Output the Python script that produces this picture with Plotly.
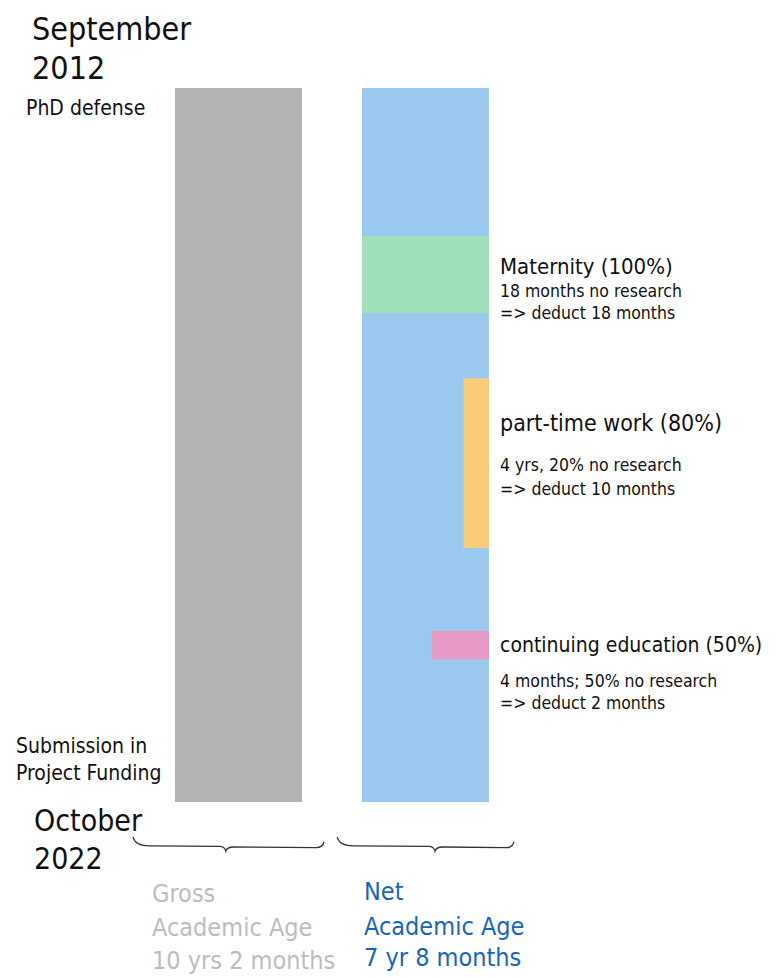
import plotly.graph_objects as go

# ---- data (months since September 2012) ----
bar_names = ["Gross", "Net"]
bar_centers = [0.5, 1.972]
bar_start = [0, 0]
bar_months = [122, 122]
bar_colors = ["#b3b3b3", "#9bc8ee"]

break_names = ["Maternity", "Part-time work", "Continuing education"]
break_start = [25.3, 49.6, 92.8]
break_months = [13.2, 29.0, 4.8]
break_share = [1.0, 0.2, 0.45]   # share of no research (bar width)
break_colors = ["#9fdfb9", "#fccb7a", "#e899c5"]

net_right = 2.472

FONT = "DejaVu Sans Condensed, DejaVu Sans, sans-serif"

fig = go.Figure()
for name, c, s, m, col in zip(bar_names, bar_centers, bar_start, bar_months, bar_colors):
    fig.add_trace(go.Bar(x=[c], y=[m], base=[s], width=[1.0], marker_color=col,
                         marker_line_width=0, name=name, hoverinfo="skip"))

for name, s, m, w, col in zip(break_names, break_start, break_months, break_share, break_colors):
    fig.add_trace(go.Bar(x=[net_right - w / 2], y=[m], base=[s], width=[w],
                         marker_color=col, marker_line_width=0, name=name, hoverinfo="skip"))

# braces under the bars
def brace(x0, x1, xt, ytop=128.0, yarm=129.5, ytip=130.4):
    return (f"M{x0},{ytop} Q{x0+0.02},{yarm} {x0+0.13},{yarm} "
            f"L{xt-0.05},{yarm+0.1} Q{xt-0.01},{yarm+0.1} {xt},{ytip} "
            f"Q{xt+0.01},{yarm+0.2} {xt+0.06},{yarm+0.2} "
            f"L{x1-0.06},{yarm+0.3} Q{x1-0.01},{yarm+0.3} {x1},{ytop+0.8}")

fig.add_shape(type="path", xref="x", yref="y", path=brace(-0.331, 1.173, 0.40),
              line=dict(color="#333333", width=1.3))
fig.add_shape(type="path", xref="x", yref="y", path=brace(1.276, 2.669, 2.047),
              line=dict(color="#333333", width=1.3))

W, H = 781, 978
OFF = 8  # page body margin
def ann(text, px, py, size, color="#111111", anchor="middle"):
    fig.add_annotation(text=text, x=(px - OFF) / W, y=1 - (py - OFF) / H,
                       xref="paper", yref="paper",
                       xanchor="left", yanchor=anchor, showarrow=False,
                       font=dict(family=FONT, size=size, color=color))

ann("September", 30, 8, 32, anchor="top")
ann("2012", 30, 68, 32)
ann("PhD defense", 24, 108, 21)
ann("Submission in", 14, 746, 21)
ann("Project Funding", 14, 773, 21)
ann("October", 32, 820, 30)
ann("2022", 32, 858, 30)

grey = "#bdbdbd"
blue = "#1565c0"
ann("Gross", 150, 893, 25, grey)
ann("Academic Age", 150, 927, 25, grey)
ann("10 yrs 2 months", 150, 960, 25, grey)
ann("Net", 362, 891, 25, blue)
ann("Academic Age", 362, 926, 25, blue)
ann("7 yr 8 months", 362, 957, 25, blue)

ann("Maternity (100%)", 498, 267, 22)
ann("18 months no research", 498, 291, 17.5)
ann("=> deduct 18 months", 498, 313, 17.5)
ann("part-time work (80%)", 498, 423, 23)
ann("4 yrs, 20% no research", 498, 465, 17.5)
ann("=> deduct 10 months", 498, 489, 17.5)
ann("continuing education (50%)", 498, 645, 21)
ann("4 months; 50% no research", 498, 681, 17.5)
ann("=> deduct 2 months", 498, 703, 17.5)

x_px0, x_scale = 175 - OFF, 127.0
y_px0, y_scale = 88 - OFF, 5.852
fig.update_layout(
    width=W, height=H, margin=dict(l=0, r=0, t=0, b=0),
    paper_bgcolor="white", plot_bgcolor="white",
    barmode="overlay", showlegend=False,
    xaxis=dict(range=[-x_px0 / x_scale, (W - x_px0) / x_scale], visible=False, fixedrange=True),
    yaxis=dict(range=[(H - y_px0) / y_scale, -y_px0 / y_scale], visible=False, fixedrange=True),
)

fig.write_html("out.html")
